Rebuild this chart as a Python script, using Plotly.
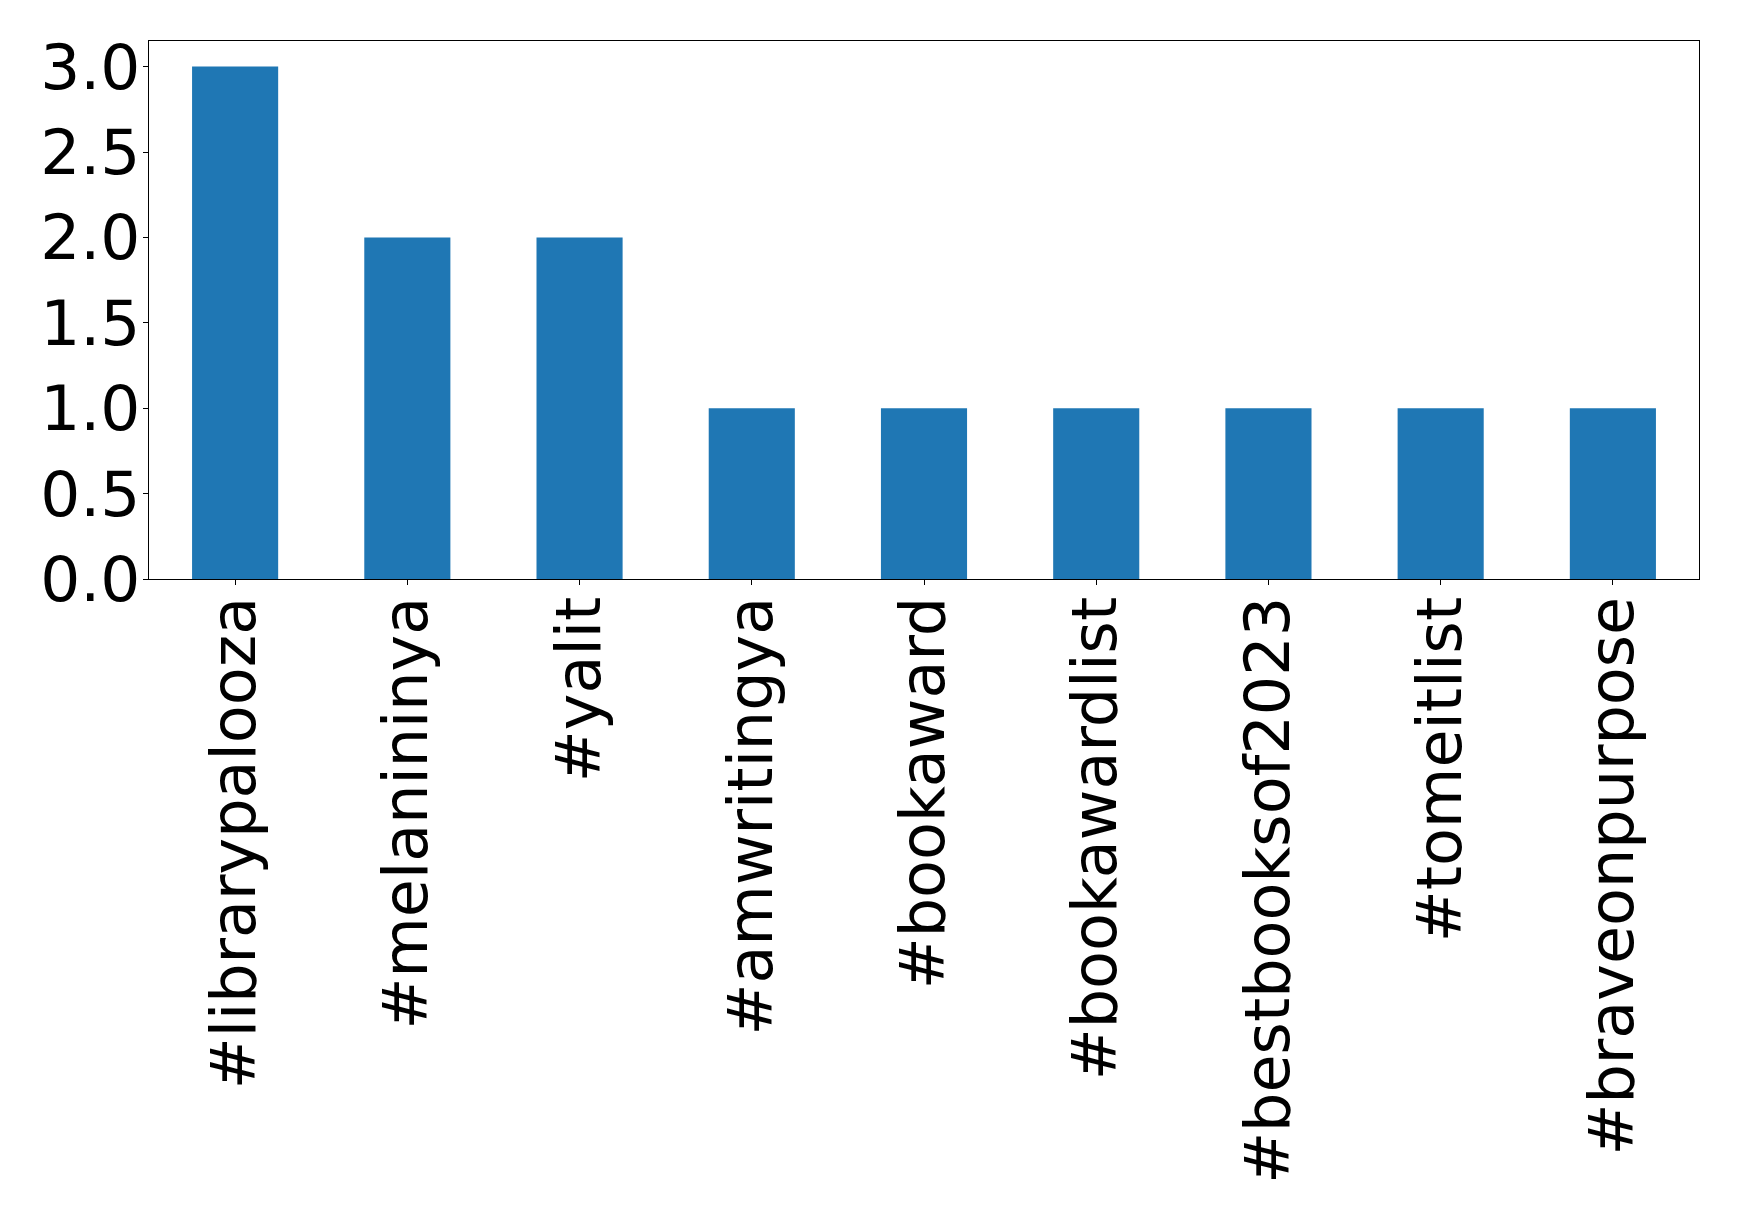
import plotly.graph_objects as go

categories = ["#librarypalooza", "#melanininya", "#yalit", "#amwritingya", "#bookaward",
              "#bookawardlist", "#bestbooksof2023", "#tomeitlist", "#braveonpurpose"]
values = [3, 2, 2, 1, 1, 1, 1, 1, 1]
y_ticks = [0.0, 0.5, 1.0, 1.5, 2.0, 2.5, 3.0]

fig = go.Figure(go.Bar(
    x=list(range(len(categories))), y=values, width=0.5,
    marker=dict(color="#1f77b4", line=dict(width=0)),
))

xfont = dict(family="DejaVu Sans", size=62, color="black")
yfont = dict(family="DejaVu Sans", size=63, color="black")
fig.update_layout(
    width=1731, height=1212,
    margin=dict(l=141, r=40, t=33, b=641),
    plot_bgcolor="white", paper_bgcolor="white",
    showlegend=False, font=xfont,
)
fig.update_xaxes(
    range=[-0.5, len(categories) - 0.5],
    tickmode="array", tickvals=list(range(len(categories))), ticktext=categories,
    tickangle=-90, ticks="outside", ticklen=5, tickwidth=1, tickcolor="black",
    ticklabelstandoff=-13,
    showline=True, linecolor="black", linewidth=1, mirror=True,
    showgrid=False, zeroline=False, tickfont=xfont,
)
fig.update_yaxes(
    range=[0, 3.15], tickmode="array", tickvals=y_ticks,
    ticktext=[f"{v:.1f}" for v in y_ticks],
    ticks="outside", ticklen=5, tickwidth=1, tickcolor="black",
    ticklabelstandoff=-10,
    showline=True, linecolor="black", linewidth=1, mirror=True,
    showgrid=False, zeroline=False, tickfont=yfont,
)
fig.write_html("out.html")
